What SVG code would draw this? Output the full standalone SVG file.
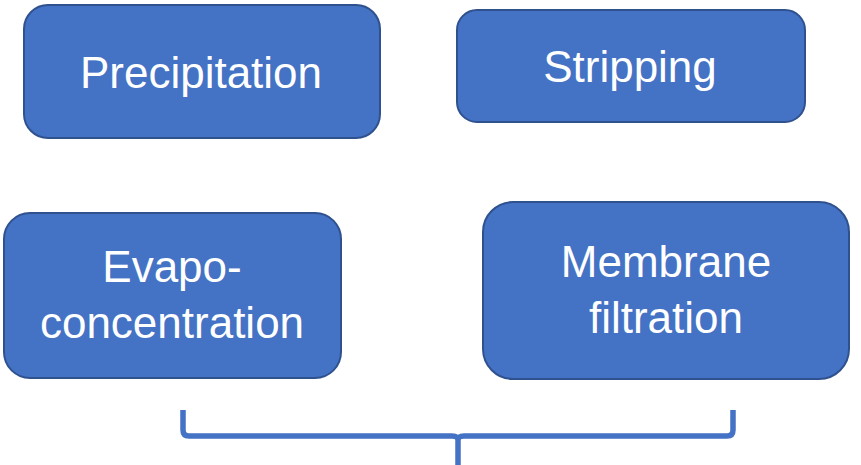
<svg xmlns="http://www.w3.org/2000/svg" width="861" height="465" viewBox="0 0 861 465">
<style>
.box{fill:#4472C4;stroke:#2F528F;stroke-width:2}
.lbl{fill:#fff;font-family:"Liberation Sans",Arial,sans-serif;font-size:44px;text-anchor:middle}
.brace{fill:none;stroke:#4472C4;stroke-width:5.5;stroke-linejoin:round}
</style>
<rect width="861" height="465" fill="#fff"/>
<g id="precipitation">
<rect class="box" x="24" y="5" width="356" height="133" rx="24"/>
<text class="lbl" x="201" y="88">Precipitation</text>
</g>
<g id="stripping">
<rect class="box" x="457" y="10" width="348" height="112" rx="20"/>
<text class="lbl" x="630" y="82">Stripping</text>
</g>
<g id="evapo">
<rect class="box" x="4" y="213" width="337" height="165" rx="26"/>
<text class="lbl" x="172" y="282">Evapo-</text>
<text class="lbl" x="172" y="338">concentration</text>
</g>
<g id="membrane">
<rect class="box" x="483" y="202" width="366" height="177" rx="30"/>
<text class="lbl" x="666" y="277">Membrane</text>
<text class="lbl" x="666" y="333">filtration</text>
</g>
<g id="connectors">
<path class="brace" d="M183 410 V430 Q183 436 189 436 H452 Q458 436 458 440 V465 M458 440 Q458 436 464 436 H727 Q733 436 733 430 V410"/>
</g>
</svg>
